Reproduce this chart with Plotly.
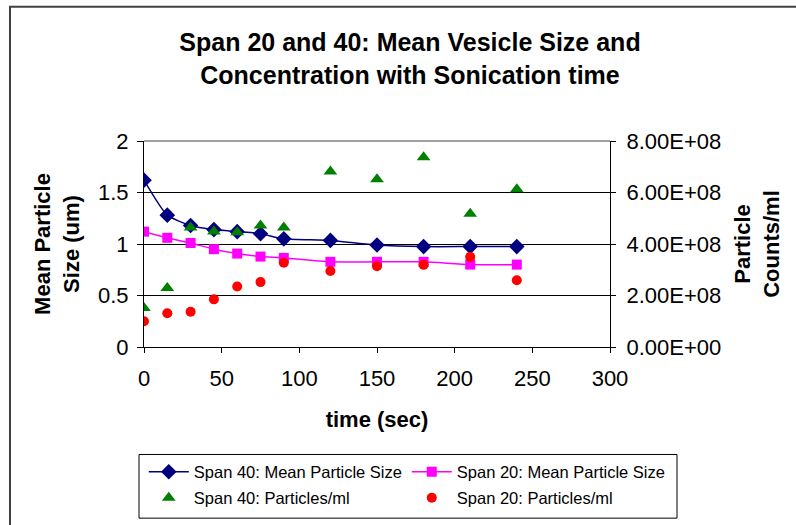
import plotly.graph_objects as go

time_s = [0, 15, 30, 45, 60, 75, 90, 120, 150, 180, 210, 240]
span40_size = [1.62, 1.28, 1.18, 1.14, 1.12, 1.10, 1.05, 1.035, 0.99, 0.975, 0.975, 0.975]
span20_size = [1.12, 1.06, 1.01, 0.95, 0.907, 0.878, 0.865, 0.827, 0.827, 0.827, 0.80, 0.80]
span40_counts = [1.51e8, 2.29e8, 4.64e8, 4.49e8, 4.46e8, 4.72e8, 4.64e8, 6.82e8, 6.51e8, 7.37e8, 5.17e8, 6.13e8]
span20_counts = [1.00e8, 1.31e8, 1.37e8, 1.85e8, 2.35e8, 2.52e8, 3.27e8, 2.95e8, 3.14e8, 3.19e8, 3.50e8, 2.59e8]

y1_ticks = [0, 0.5, 1, 1.5, 2]
y1_labels = ["0", "0.5", "1", "1.5", "2"]
y2_ticks = [0, 2e8, 4e8, 6e8, 8e8]
y2_labels = ["0.00E+00", "2.00E+08", "4.00E+08", "6.00E+08", "8.00E+08"]
x_ticks = [0, 50, 100, 150, 200, 250, 300]

FONT = "Liberation Sans, Arial, sans-serif"
W, H = 796, 525
L, R, T, B = 144, 186, 141, 177
PW, PH = W - L - R, H - T - B

def px_x(p):
    return (p - L) / PW

def px_y(p):
    return (H - B - p) / PH

fig = go.Figure()
fig.add_trace(go.Scatter(
    x=time_s, y=span40_size, name="Span 40: Mean Particle Size", legend="legend",
    mode="lines+markers", line=dict(color="#000080", width=1.5, shape="spline", smoothing=0.6),
    marker=dict(symbol="diamond", size=12, color="#000080")))
fig.add_trace(go.Scatter(
    x=time_s, y=span20_size, name="Span 20: Mean Particle Size", legend="legend",
    mode="lines+markers", line=dict(color="#FF00FF", width=1.5, shape="spline", smoothing=0.6),
    marker=dict(symbol="square", size=10, color="#FF00FF")))
fig.add_trace(go.Scatter(
    x=time_s, y=span40_counts, name="Span 40: Particles/ml", yaxis="y2", legend="legend2",
    mode="markers", marker=dict(symbol="triangle-up", size=12, color="#008000")))
fig.add_trace(go.Scatter(
    x=time_s, y=span20_counts, name="Span 20: Particles/ml", yaxis="y2", legend="legend2",
    mode="markers", marker=dict(symbol="circle", size=10, color="#FF0000")))

# outer chart frame
fig.add_shape(type="rect", xref="paper", yref="paper",
              x0=px_x(10), x1=px_x(805), y0=px_y(6), y1=px_y(535),
              line=dict(color="#404040", width=2), layer="below")
# legend frame
fig.add_shape(type="rect", xref="paper", yref="paper",
              x0=px_x(139), x1=px_x(677), y0=px_y(456), y1=px_y(520),
              line=dict(color="black", width=1), layer="below")
# gray top border of plot area
fig.add_shape(type="line", xref="paper", yref="paper",
              x0=0, x1=1, y0=1, y1=1, line=dict(color="#808080", width=1.5))

legend_common = dict(orientation="h", x=-0.0005, xanchor="left", yanchor="middle",
                     borderwidth=0, bgcolor="rgba(0,0,0,0)",
                     font=dict(size=16.5, family=FONT),
                     entrywidth=208, entrywidthmode="pixels",
                     tracegroupgap=0, itemwidth=40)

fig.update_layout(
    width=W, height=H,
    margin=dict(l=L, r=R, t=T, b=B),
    paper_bgcolor="white", plot_bgcolor="white",
    font=dict(family=FONT, color="black", size=22),
    title=dict(text="<b>Span 20 and 40: Mean Vesicle Size and<br>Concentration with Sonication time</b>",
               x=410 / W, xanchor="center", y=1 - 51 / H, yanchor="middle",
               font=dict(size=25, family=FONT)),
    xaxis=dict(range=[0, 300], tickvals=x_ticks, showgrid=False, zeroline=False,
               showline=True, linecolor="black", linewidth=1,
               ticks="outside", ticklen=5, tickcolor="black",
               tickfont=dict(size=22), ticklabelstandoff=7,
               title=dict(text="<b>time (sec)</b>", font=dict(size=22), standoff=21)),
    yaxis=dict(range=[0, 2], tickvals=y1_ticks, ticktext=y1_labels,
               showgrid=True, gridcolor="black", gridwidth=1, zeroline=False,
               showline=True, linecolor="black", linewidth=1,
               ticks="outside", ticklen=6, tickcolor="black",
               tickfont=dict(size=22), ticklabelstandoff=4,
               title=dict(text="<b>Mean Particle<br>Size (um)</b>", font=dict(size=22), standoff=12)),
    yaxis2=dict(range=[0, 8e8], overlaying="y", side="right",
                tickvals=y2_ticks, ticktext=y2_labels,
                showgrid=False, zeroline=False,
                showline=True, linecolor="black", linewidth=1,
                ticks="outside", ticklen=5, tickcolor="black",
                tickfont=dict(size=22), ticklabelstandoff=6,
                title=dict(text="<b>Particle<br>Counts/ml</b>", font=dict(size=22), standoff=14)),
    legend=dict(legend_common, y=px_y(472)),
    legend2=dict(legend_common, y=px_y(498)),
    showlegend=True,
)

fig.write_html("out.html")
